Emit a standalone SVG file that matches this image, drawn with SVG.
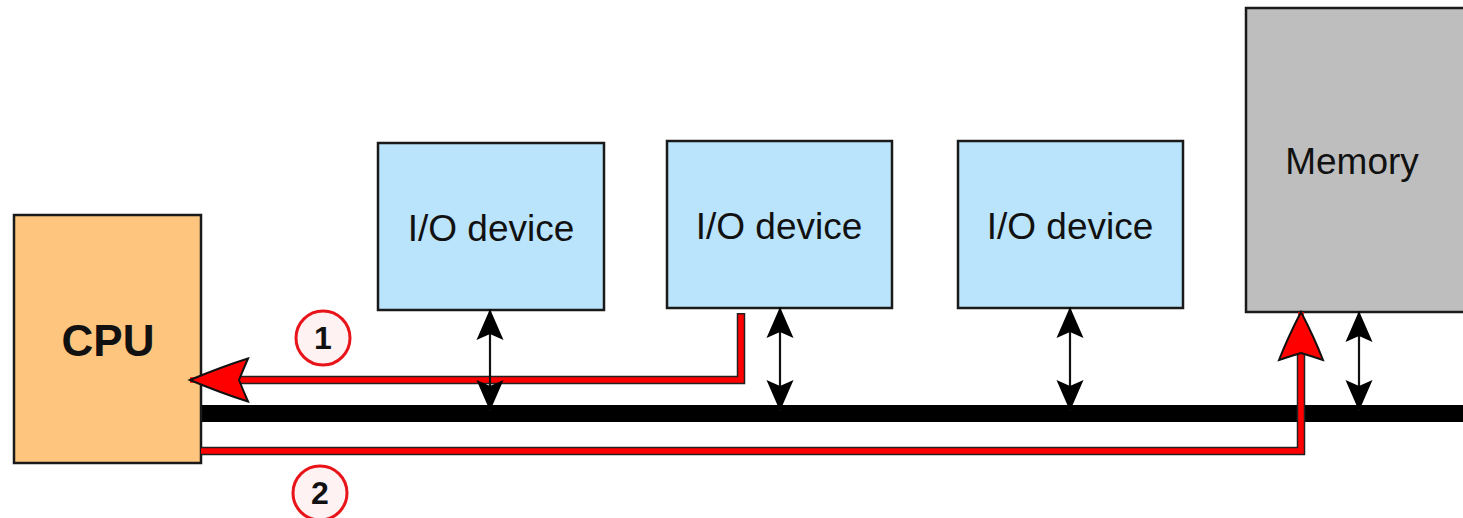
<svg xmlns="http://www.w3.org/2000/svg" width="1463" height="518" viewBox="0 0 1463 518">
  <style>
    .box { stroke: #1a1a1a; stroke-width: 2.5; }
    .io { fill: #BAE4FC; }
    .cpu { fill: #FDC57E; }
    .mem { fill: #BEBEBE; }
    .lbl { font-family: "Liberation Sans", Arial, sans-serif; font-size: 37px; fill: #111; text-anchor: middle; }
    .lbl-b { font-family: "Liberation Sans", Arial, sans-serif; font-size: 44px; font-weight: bold; fill: #111; text-anchor: middle; }
    .link { stroke: #111; stroke-width: 2.2; fill: none; marker-start: url(#head); marker-end: url(#head); }
    .path-edge { stroke: #222; stroke-width: 8.5; fill: none; stroke-linejoin: miter; }
    .path-core { stroke: #FF0000; stroke-width: 5.5; fill: none; stroke-linejoin: miter; }
    .step circle { fill: #FFF2F2; stroke: #E8141A; stroke-width: 3; }
    .step text { font-family: "Liberation Sans", Arial, sans-serif; font-size: 32px; font-weight: bold; fill: #111; text-anchor: middle; }
  </style>
  <defs>
    <marker id="head" markerUnits="userSpaceOnUse" markerWidth="32" markerHeight="30" viewBox="0 0 32 30" refX="31" refY="15" orient="auto-start-reverse">
      <path d="M31,15 L0,1.5 L6,15 L0,28.5 Z" fill="#000"/>
    </marker>
    <marker id="redhead" markerUnits="userSpaceOnUse" markerWidth="64" markerHeight="50" viewBox="0 0 64 50" refX="61" refY="25" orient="auto">
      <path d="M61,25 Q30,12 3,3.5 Q8,15 12,25 Q8,35 3,46.5 Q30,38 61,25 Z" fill="#FF0000" stroke="#111" stroke-width="2" stroke-linejoin="miter"/>
    </marker>
    <marker id="redhead2" markerUnits="userSpaceOnUse" markerWidth="54" markerHeight="50" viewBox="0 0 54 50" refX="51" refY="25" orient="auto">
      <path d="M51,25 Q26,12 3,3 Q7,15 10,25 Q7,35 3,47 Q26,38 51,25 Z" fill="#FF0000" stroke="#111" stroke-width="2" stroke-linejoin="miter"/>
    </marker>
  </defs>

  <!-- system bus -->
  <rect id="bus" x="201" y="405" width="1262" height="17" fill="#000"/>

  <g id="cpu">
    <rect class="box cpu" x="14" y="215" width="187" height="248"/>
    <text class="lbl-b" x="108" y="356">CPU</text>
  </g>
  <g id="io1">
    <rect class="box io" x="378" y="143" width="226" height="167"/>
    <text class="lbl" x="491" y="241">I/O device</text>
  </g>
  <g id="io2">
    <rect class="box io" x="667" y="141" width="225" height="167"/>
    <text class="lbl" x="779" y="239">I/O device</text>
  </g>
  <g id="io3">
    <rect class="box io" x="958" y="141" width="225" height="167"/>
    <text class="lbl" x="1070" y="239">I/O device</text>
  </g>
  <g id="memory">
    <rect class="box mem" x="1246" y="8" width="230" height="304"/>
    <text class="lbl" x="1352" y="174">Memory</text>
  </g>

  <g id="connectors">
    <!-- step 1: device to CPU -->
    <path class="path-edge" d="M741,313 V380 H215"/>
    <path class="path-core" d="M741,314.5 V380 H190" marker-end="url(#redhead)"/>

    <!-- step 2: CPU to memory -->
    <path class="path-edge" d="M201,451 H1301 V330"/>
    <path class="path-core" d="M201,451 H1301 V312" marker-end="url(#redhead2)"/>

    <!-- bus attachments -->
    <line class="link" x1="490" y1="309" x2="490" y2="411"/>
    <line class="link" x1="780" y1="307" x2="780" y2="411"/>
    <line class="link" x1="1070" y1="307" x2="1070" y2="411"/>
    <line class="link" x1="1359" y1="311" x2="1359" y2="411"/>
  </g>

  <g id="step1" class="step">
    <circle cx="323" cy="338" r="27"/>
    <text x="323" y="349">1</text>
  </g>
  <g id="step2" class="step">
    <circle cx="320" cy="493" r="27"/>
    <text x="320" y="504">2</text>
  </g>
</svg>
